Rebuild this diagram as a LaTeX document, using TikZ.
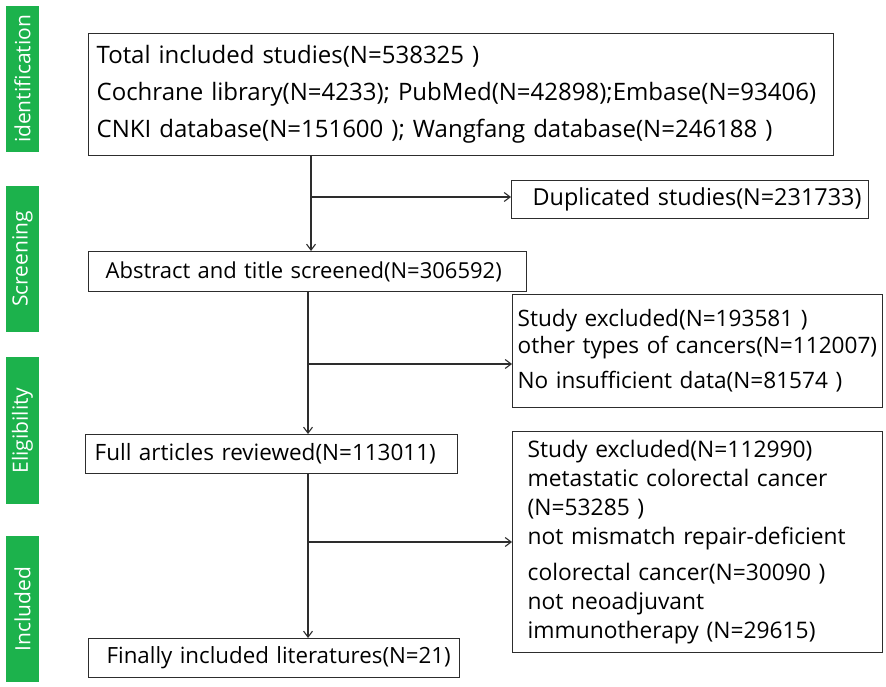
\documentclass[tikz,border=0pt]{standalone}
\usepackage{fontspec}
\setmainfont{Open Sans}
\usetikzlibrary{arrows.meta,calc}
\definecolor{barg}{RGB}{28,178,76}
\definecolor{ln}{RGB}{45,45,45}
\begin{document}
\begin{tikzpicture}[x=1pt,y=-1pt,
  stage/.style={fill=barg,text=white,rotate=90,inner sep=0pt,font=\fontsize{21}{24}\selectfont,anchor=center},
  box/.style={draw=ln,line width=1.3pt,anchor=north west,inner ysep=0pt,align=left,font=\fontsize{23}{37}\selectfont},
  flow/.style={draw=ln,line width=1.3pt,-{Straight Barb[length=6pt,width=9pt,line width=1.1pt]}},
  link/.style={draw=ln,line width=1.3pt}]
\useasboundingbox (0,0) rectangle (886,687);
% stage bars
\node[stage,minimum width=146pt,minimum height=33pt] (st1) at (22.5,79) {identification};
\node[stage,minimum width=146pt,minimum height=33pt] (st2) at (22.5,259) {Screening};
\node[stage,minimum width=147pt,minimum height=33pt] (st3) at (22.5,430.5) {Eligibility};
\node[stage,minimum width=146pt,minimum height=33pt] (st4) at (22.5,609) {Included};
% main boxes
\node[box,minimum width=745pt,minimum height=122pt,inner xsep=8pt,text width=729pt,font=\fontsize{24}{37}\selectfont] (b1) at (88,33)
  {\mbox{Total included studies(N=538325 )}\\
   \mbox{Cochrane library(N=4233); PubMed(N=42898);Embase(N=93406)}\\
   \mbox{CNKI database(N=151600 ); Wangfang database(N=246188 )}};
\node[box,minimum width=438pt,minimum height=40pt,inner xsep=17pt,text width=404pt,font=\fontsize{22}{30}\selectfont] (b2) at (88,251)
  {\mbox{Abstract and title screened(N=306592)}};
\node[box,minimum width=372pt,minimum height=39pt,inner xsep=9pt,text width=354pt,font=\fontsize{22.5}{30}\selectfont] (b3) at (85,434)
  {\mbox{Full articles reviewed(N=113011)}};
\node[box,minimum width=371pt,minimum height=39pt,inner xsep=18pt,text width=335pt,font=\fontsize{22.3}{30}\selectfont] (b4) at (88,638)
  {\mbox{Finally included literatures(N=21)}};
% side boxes
\node[box,minimum width=357pt,minimum height=38pt,inner xsep=21pt,text width=315pt,font=\fontsize{23.4}{30}\selectfont] (d1) at (511,180)
  {\mbox{Duplicated studies(N=231733)}};
\node[box,minimum width=370pt,minimum height=113pt,inner xsep=5pt,text width=360pt,font=\fontsize{22.6}{27}\selectfont] (e1) at (512,294)
  {\mbox{Study excluded(N=193581 )}\\
   \mbox{other types of cancers(N=112007)}\\[8pt]
   \mbox{No insufficient data(N=81574 )}};
\node[box,minimum width=370pt,minimum height=221pt,inner xsep=15pt,text width=340pt,font=\fontsize{22.8}{29}\selectfont] (e2) at (512,431)
  {\mbox{Study excluded(N=112990)}\\
   \mbox{metastatic colorectal cancer}\\
   \mbox{(N=53285 )}\\
   \mbox{not mismatch repair-deficient}\\[7pt]
   \mbox{colorectal cancer(N=30090 )}\\
   \mbox{not neoadjuvant}\\
   \mbox{immunotherapy (N=29615)}};
% connectors
\coordinate (j1) at (311,197);
\coordinate (j2) at (308,364);
\coordinate (j3) at (308,542);
\draw[flow] (b1.south -| j1) -- (b2.north -| j1);
\draw[flow] (j1) -- (d1.west |- j1);
\draw[flow] (b2.south -| j2) -- (b3.north -| j2);
\draw[flow] (j2) -- (e1.west |- j2);
\draw[flow] (b3.south -| j3) -- (b4.north -| j3);
\draw[flow] (j3) -- (e2.west |- j3);
\end{tikzpicture}
\end{document}
